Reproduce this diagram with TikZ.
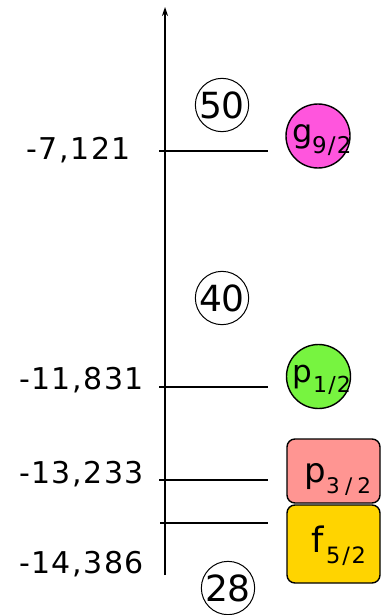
\documentclass[tikz,border=0pt]{standalone}
\usepackage{fontspec}
\setmainfont{DejaVu Sans}
\newfontfamily\spaced[LetterSpace=5]{DejaVu Sans}
\usetikzlibrary{arrows.meta}
\definecolor{gcol}{HTML}{FF55DD}
\definecolor{pone}{HTML}{77F440}
\definecolor{pthree}{HTML}{FF9592}
\definecolor{ffive}{HTML}{FFD400}
% text of size #1 with letter spacing #2
\newcommand{\sized}[3]{\fontsize{#1}{#1}\selectfont\addfontfeature{LetterSpace=#2}#3}
\tikzset{
  levelline/.style={line width=1.2pt},
  energy/.style={anchor=east, font=\spaced\fontsize{30}{30}\selectfont, inner sep=0pt},
  magic/.style={circle, draw, line width=1pt, minimum size=52pt, inner sep=0pt, font=\fontsize{36}{36}\selectfont},
  shell/.style={draw, line width=1.4pt, inner sep=0pt},
  orbtext/.style={inner sep=0pt, anchor=base west},
}
\begin{document}
\begin{tikzpicture}[x=1pt,y=-1pt]
\useasboundingbox (0,0) rectangle (381,615);

% energy axis
\coordinate (axb) at (165,575);
\coordinate (axt) at (165,7);
\draw[line width=1.2pt, -{Stealth[length=9pt,width=6pt]}] (axb) -- (axt);

% single-particle levels
\coordinate (l1a) at (159,151); \coordinate (l1b) at (268,151);
\coordinate (l2a) at (159,387); \coordinate (l2b) at (268,387);
\coordinate (l3a) at (159,480); \coordinate (l3b) at (268,480);
\coordinate (l4a) at (160,523); \coordinate (l4b) at (268,523);
\draw[levelline] (l1a) -- (l1b);
\draw[levelline] (l2a) -- (l2b);
\draw[levelline] (l3a) -- (l3b);
\draw[levelline] (l4a) -- (l4b);

% energies
\node[energy] (e1) at (131,150) {-7,121};
\node[energy] (e2) at (144,380) {-11,831};
\node[energy] (e3) at (144,474) {-13,233};
\node[energy] (e4) at (144,564) {-14,386};

% magic numbers
\node[magic] (m50) at (222,105) {50};
\node[magic] (m40) at (222,298) {40};
\node[magic] (m28) at (228,588) {28};

% orbitals: shapes
\node[shell, circle, fill=gcol, minimum size=64pt] (g92) at (318,136) {};
\node[shell, circle, fill=pone, minimum size=64pt] (p12) at (318.5,376.5) {};
\node[shell, rounded corners=8pt, fill=pthree, minimum width=93pt, minimum height=64pt] (p32) at (333.5,471) {};
\node[shell, rounded corners=8pt, fill=ffive, minimum width=93pt, minimum height=78pt] (f52) at (333.5,544) {};

% orbitals: labels
\node[orbtext] (tg)  at (292,142) {\sized{32}{0}{g}};
\node[orbtext] (sg)  at (312,153) {\sized{23}{5}{9/2}};
\node[orbtext] (tp1) at (292,382) {\sized{31}{0}{p}};
\node[orbtext] (sp1) at (313,392) {\sized{22}{5}{1/2}};
\node[orbtext] (tp3) at (304,482) {\sized{34}{0}{p}};
\node[orbtext] (sp3) at (326,493) {\sized{21.5}{24}{3/2}};
\node[orbtext] (tf5) at (311,552) {\sized{35}{0}{f}};
\node[orbtext] (sf5) at (326,563) {\sized{22.5}{8}{5/2}};
\end{tikzpicture}
\end{document}
